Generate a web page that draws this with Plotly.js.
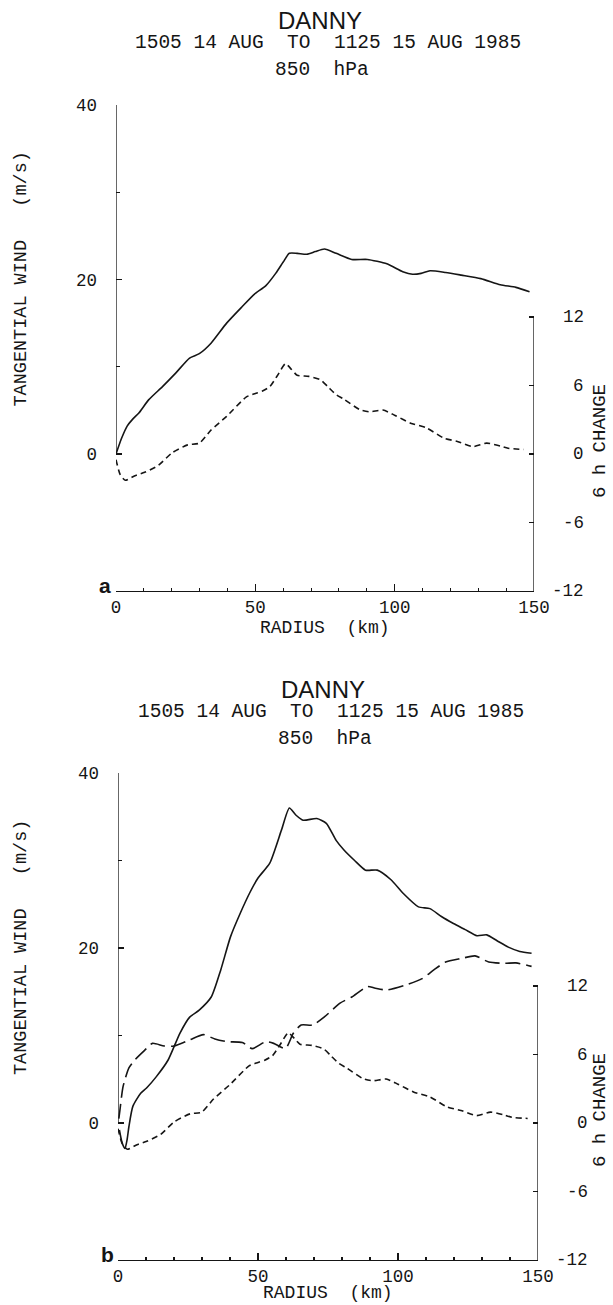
<!DOCTYPE html>
<html>
<head>
<meta charset="utf-8">
<script src="https://cdn.plot.ly/plotly-3.0.1.min.js"></script>
<style>html,body{margin:0;padding:0;background:#fff;}#chart{width:613px;height:1305px;}</style>
</head>
<body>
<div id="chart"></div>
<script>
// ---------------- data ----------------
const titleStorm = "DANNY";
const titlePeriod = "1505 14 AUG  TO  1125 15 AUG 1985";
const titleLevel = "850  hPa";
const panelLetters = ["a", "b"];
const xTitle = "RADIUS  (km)";
const yLeftTitle = "TANGENTIAL WIND   (m/s)";
const yRightTitle = "6 h CHANGE";
const leftTickVals = [0, 20, 40];
const leftTickText = ["0", "20", "40"];
const leftMinorVals = [10, 30];
const rightTickVals = [12, 6, 0, -6, -12];
const rightTickText = ["12", "6", "0", "-6", "-12"];

// panel a : tangential wind (m/s)
const radiusA = [0, 2, 4, 6, 8.2, 11.7, 16.6, 21.5, 26.4, 29.9, 34.1, 39.7, 45.3, 49.6, 53.8, 57.3, 60, 62.2, 65, 68.5, 71.5, 74.8, 79, 84.6, 90.2, 97.2, 102.9, 106.4, 109.5, 112.7, 118.3, 123.9, 130.9, 137.9, 143.5, 148.4];
const windA = [0, 1.8, 3.2, 4.0, 4.7, 6.2, 7.7, 9.3, 11.0, 11.5, 12.7, 15.0, 16.9, 18.3, 19.3, 20.7, 22.0, 23.0, 23.0, 22.9, 23.2, 23.5, 23.0, 22.3, 22.3, 21.8, 20.9, 20.6, 20.7, 21.0, 20.8, 20.5, 20.1, 19.4, 19.1, 18.6];

// 6 h change (right axis), used in both panels
const radiusChange = [0, 1.5, 3.3, 6.8, 10.3, 15.2, 20.1, 25.7, 29.9, 34.1, 39.7, 46.8, 50, 52.4, 55.2, 58, 60.8, 63, 65, 69.2, 73.4, 76, 79, 81.8, 87.4, 90.9, 95.8, 100, 105.7, 111.3, 117.6, 122.5, 128.1, 133, 137.9, 140.7, 146.3];
const windChange = [-0.5, -1.8, -2.3, -1.9, -1.6, -1.0, 0.1, 0.8, 0.95, 2.1, 3.3, 5.0, 5.3, 5.5, 5.9, 6.9, 7.9, 7.4, 6.9, 6.8, 6.5, 5.9, 5.2, 4.8, 3.9, 3.7, 3.85, 3.4, 2.7, 2.3, 1.4, 1.1, 0.65, 0.95, 0.7, 0.5, 0.4];

// panel b : later tangential wind (solid) and earlier wind (long dash)
const radiusB = [0.5, 1.5, 2.5, 3.3, 3.9, 5.3, 8.1, 10.2, 13.7, 17.9, 22.1, 25.6, 29, 33.3, 36.7, 40.2, 43.7, 47.2, 50, 54.2, 58.4, 61.2, 63.5, 66.1, 71, 74.4, 77.9, 80.7, 84.5, 88.4, 92.6, 97.5, 102, 107.3, 111.4, 115.5, 119.8, 124, 128.2, 131.7, 135.5, 139.4, 143.5, 147.7];
const windB = [-0.8, -2.3, -2.9, -1.8, -0.4, 1.9, 3.4, 4.0, 5.3, 7.2, 10.25, 12.1, 12.9, 14.4, 17.5, 21.3, 24.0, 26.4, 28.0, 29.7, 33.5, 36.0, 35.2, 34.6, 34.8, 34.25, 32.3, 31.2, 30.0, 28.9, 28.9, 27.8, 26.2, 24.7, 24.5, 23.6, 22.8, 22.1, 21.4, 21.5, 20.8, 20.1, 19.6, 19.4];
const radiusB2 = [0.3, 0.7, 1.8, 3.9, 6, 9.5, 12.3, 16.5, 20, 25.6, 30.5, 34.6, 38.8, 44.4, 47.9, 52.8, 55.6, 59.8, 62.6, 65.4, 69.5, 73.8, 79.3, 83.5, 89.1, 91.9, 96.1, 103.1, 108.6, 112.8, 117, 122.6, 127.5, 132.4, 138, 142.1, 147.7];
const windB2 = [0.5, 1.5, 4.15, 6.3, 7.2, 8.3, 9.1, 8.8, 8.8, 9.5, 10.1, 9.6, 9.3, 9.2, 8.5, 9.3, 9.1, 8.5, 10.25, 11.2, 11.2, 12.15, 13.7, 14.4, 15.6, 15.4, 15.2, 15.8, 16.5, 17.5, 18.4, 18.8, 19.1, 18.4, 18.25, 18.3, 17.9];

// ---------------- layout helpers ----------------
const W = 613, H = 1305;
const px = v => v / W;
const py = v => 1 - v / H;
const MONO = "Liberation Mono, DejaVu Sans Mono, monospace";
const INK = "#151515";

const geo = [
  {left: 116, right: 534, top: 105, zero: 454, bottom: 591, titleY: 20, titleX: 322, rLab: 586, xTitleGap: 37},
  {left: 118, right: 538, top: 773, zero: 1123, bottom: 1260, titleY: 689, titleX: 325, rLab: 590, xTitleGap: 33}
];

const layout = {
  width: W, height: H, autosize: false,
  margin: {l: 0, r: 0, t: 0, b: 0, pad: 0},
  paper_bgcolor: "#fff", plot_bgcolor: "rgba(0,0,0,0)",
  showlegend: false,
  shapes: [], annotations: []
};
const traces = [];

geo.forEach((g, i) => {
  const n = i * 2;
  const xa = n === 0 ? "xaxis" : "xaxis" + (n + 1);
  const xz = "xaxis" + (n + 2);
  const ya = n === 0 ? "yaxis" : "yaxis" + (n + 1);
  const yr = "yaxis" + (n + 2);
  const xid = n === 0 ? "x" : "x" + (n + 1);
  const yid = n === 0 ? "y" : "y" + (n + 1);
  const yrid = "y" + (n + 2);
  const dom = [px(g.left), px(g.right)];
  const leftRange = [-40 * (g.bottom - g.zero) / (g.zero - g.top), 40];
  const rightRange = [-12, 12 * (g.zero - g.top) / (g.bottom - g.zero)];
  const tickfont = {family: MONO, size: 17.5, color: INK};

  layout[xa] = {
    domain: dom, anchor: yid, range: [0, 150], fixedrange: true,
    showline: true, linecolor: INK, linewidth: 1.3, mirror: false,
    showgrid: false, zeroline: false,
    ticks: "inside", tickmode: "linear", tick0: 0, dtick: 50, ticklen: 7, tickwidth: 1.2, tickcolor: INK,
    minor: {ticks: "inside", dtick: 10, tick0: 0, ticklen: 3.5, tickwidth: 1.1, tickcolor: INK},
    tickfont: tickfont
  };
  layout[xz] = {
    domain: dom, overlaying: xid, anchor: "free", position: py(g.zero), range: [0, 150], fixedrange: true,
    showline: true, linecolor: INK, linewidth: 1.3,
    showgrid: false, zeroline: false, showticklabels: false,
    ticks: "inside", tickmode: "linear", tick0: 0, dtick: 50, ticklen: 7, tickwidth: 1.2, tickcolor: INK,
    minor: {ticks: "inside", dtick: 10, tick0: 0, ticklen: 3.5, tickwidth: 1.1, tickcolor: INK}
  };
  layout[ya] = {
    domain: [py(g.bottom), py(g.top)], anchor: xid, range: leftRange, fixedrange: true,
    showline: false, showgrid: false, zeroline: false,
    ticks: "inside", tickmode: "array", tickvals: leftTickVals, ticktext: leftTickText,
    ticklen: 6, tickwidth: 1.2, tickcolor: INK, ticklabelstandoff: 18,
    minor: {ticks: "inside", tickvals: leftMinorVals, ticklen: 3.5, tickwidth: 1.1, tickcolor: INK},
    tickfont: tickfont
  };
  layout[yr] = {
    overlaying: yid, side: "right", anchor: xid, range: rightRange, fixedrange: true,
    showline: false, showgrid: false, zeroline: false, showticklabels: false,
    ticks: "inside", tickmode: "array", tickvals: rightTickVals,
    ticklen: 5, tickwidth: 1.2, tickcolor: INK
  };

  // axis lines limited to the labelled spans
  layout.shapes.push({type: "line", xref: xid, yref: yid, x0: 0, x1: 0, y0: leftTickVals[0], y1: leftTickVals[leftTickVals.length - 1], line: {color: INK, width: 1.3}});
  layout.shapes.push({type: "line", xref: xid, yref: yrid, x0: 150, x1: 150, y0: Math.min(...rightTickVals), y1: Math.max(...rightTickVals), line: {color: INK, width: 1.3}});

  // right tick labels (right aligned like the original)
  rightTickVals.forEach((v, k) => {
    layout.annotations.push({xref: "paper", yref: yrid, x: px(g.rLab), y: v, xanchor: "right", yanchor: "middle",
      text: rightTickText[k], showarrow: false, font: {family: MONO, size: 17.5, color: INK}});
  });

  // titles
  layout.annotations.push({xref: "paper", yref: "paper", x: px(g.titleX - 2), y: py(g.titleY), text: titleStorm, showarrow: false,
    xanchor: "center", yanchor: "middle", font: {family: "Liberation Sans, Arial, sans-serif", size: 24, color: INK}});
  layout.annotations.push({xref: "paper", yref: "paper", x: px(g.titleX + 6), y: py(g.titleY + 23), text: titlePeriod.replace(/ /g, "\u00a0"), showarrow: false,
    xanchor: "center", yanchor: "middle", font: {family: MONO, size: 19.5, color: INK}});
  layout.annotations.push({xref: "paper", yref: "paper", x: px(g.titleX), y: py(g.titleY + 50), text: titleLevel.replace(/ /g, "\u00a0"), showarrow: false,
    xanchor: "center", yanchor: "middle", font: {family: MONO, size: 19.5, color: INK}});

  // axis titles
  layout.annotations.push({xref: "paper", yref: "paper", x: px(21), y: py((g.top + g.zero) / 2), text: yLeftTitle.replace(/ /g, "\u00a0"), showarrow: false,
    textangle: -90, xanchor: "center", yanchor: "middle", font: {family: MONO, size: 18.5, color: INK}});
  layout.annotations.push({xref: "paper", yref: "paper", x: px(600), y: py(g.zero - 13), text: yRightTitle.replace(/ /g, "\u00a0"), showarrow: false,
    textangle: -90, xanchor: "center", yanchor: "middle", font: {family: MONO, size: 19, color: INK}});
  layout.annotations.push({xref: "paper", yref: "paper", x: px((g.left + g.right) / 2), y: py(g.bottom + g.xTitleGap), text: xTitle.replace(/ /g, "\u00a0"), showarrow: false,
    xanchor: "center", yanchor: "middle", font: {family: MONO, size: 18, color: INK}});
  layout.annotations.push({xref: "paper", yref: "paper", x: px(g.left - 11), y: py(g.bottom - 6), text: "<b>" + panelLetters[i] + "</b>", showarrow: false,
    xanchor: "center", yanchor: "middle", font: {family: "Liberation Sans, Arial, sans-serif", size: 21, color: INK}});
});

const solid = {color: INK, width: 1.6, shape: "spline", smoothing: 0.6};
traces.push({type: "scatter", mode: "lines", x: radiusA, y: windA, xaxis: "x", yaxis: "y", line: solid, hoverinfo: "skip"});
traces.push({type: "scatter", mode: "lines", x: radiusChange, y: windChange, xaxis: "x", yaxis: "y2",
  line: {color: INK, width: 1.6, dash: "6px,4px", shape: "spline", smoothing: 0.6}, hoverinfo: "skip"});
traces.push({type: "scatter", mode: "lines", x: radiusB, y: windB, xaxis: "x3", yaxis: "y3", line: solid, hoverinfo: "skip"});
traces.push({type: "scatter", mode: "lines", x: radiusB2, y: windB2, xaxis: "x3", yaxis: "y3",
  line: {color: INK, width: 1.6, dash: "15px,6px", shape: "spline", smoothing: 0.6}, hoverinfo: "skip"});
traces.push({type: "scatter", mode: "lines", x: radiusChange, y: windChange, xaxis: "x3", yaxis: "y4",
  line: {color: INK, width: 1.6, dash: "6px,4px", shape: "spline", smoothing: 0.6}, hoverinfo: "skip"});

Plotly.newPlot("chart", traces, layout, {staticPlot: true, displayModeBar: false});
</script>
</body>
</html>
